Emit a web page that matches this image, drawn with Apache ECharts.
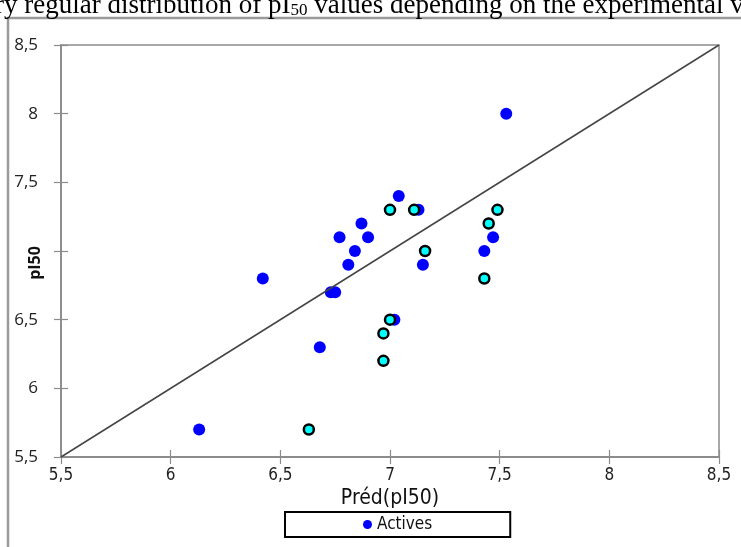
<!DOCTYPE html>
<html>
<head>
<meta charset="utf-8">
<script src="https://cdn.jsdelivr.net/npm/echarts@6/dist/echarts.min.js"></script>
<style>
  html, body { margin: 0; padding: 0; background: #fff; }
  #chart { width: 741px; height: 547px; }
</style>
</head>
<body>
<div id="chart"></div>
<script>
// values
const actives = [
  [7.53, 8.0], [7.04, 7.4], [7.13, 7.3], [6.87, 7.2], [6.77, 7.1],
  [6.90, 7.1], [6.84, 7.0], [6.81, 6.9], [7.15, 6.9], [7.47, 7.1],
  [7.43, 7.0], [6.73, 6.7], [6.75, 6.7], [7.02, 6.5], [6.68, 6.3],
  [6.42, 6.8], [6.13, 5.7],
]
const testSet = [
  [7.00, 7.3], [7.11, 7.3], [7.16, 7.0], [7.49, 7.3], [7.45, 7.2],
  [7.43, 6.8], [7.00, 6.5], [6.97, 6.4], [6.97, 6.2], [6.63, 5.7],
]
const diagonal = [[5.5, 5.5], [8.5, 8.5]]
const axisMin = 5.5
const axisMax = 8.5
const step = 0.5
// the y title sits over this tick label in the original
const hiddenYLabel = 7

const comma = (v) => String(v).replace('.', ',')
const labelFont = "'DejaVu Sans Condensed', 'Open Sans', sans-serif"

const chart = echarts.init(document.getElementById('chart'))

const baseAxis = {
  min: axisMin,
  max: axisMax,
  interval: step,
  splitLine: { show: false },
  axisLine: { lineStyle: { color: '#8c8c8c', width: 1.5 } },
  axisTick: { length: 7, lineStyle: { color: '#8c8c8c', width: 1.2 } },
}

chart.setOption({
  animation: false,
  graphic: [
    {
      type: 'rect',
      shape: { x: 8, y: 18, width: 760, height: 560 },
      style: { fill: 'none', stroke: '#9a9a9a', lineWidth: 2.5 },
      z: 0,
    },
    {
      type: 'text',
      left: -5,
      top: -8,
      style: {
        text: '{n|ry regular distribution of pI}{s|50}{n| values depending on the experimental values}',
        rich: {
          n: { fontFamily: 'Liberation Serif', fontSize: 27, color: '#000' },
          s: { fontFamily: 'Liberation Serif', fontSize: 17, color: '#000', padding: [10, 0, 0, 0] },
        },
      },
    },
  ],
  grid: {
    left: 61,
    right: 22,
    top: 45,
    bottom: 90,
    outerBoundsMode: 'none',
    containLabel: false,
    show: true,
    borderColor: '#8c8c8c',
    borderWidth: 1.5,
  },
  legend: {
    left: 285,
    top: 512,
    data: [{ name: 'Actives' }],
    icon: 'circle',
    itemWidth: 9,
    itemHeight: 9,
    itemGap: 5,
    padding: [4, 78, 4, 78],
    borderColor: '#000',
    borderWidth: 2,
    textStyle: { fontFamily: labelFont, fontSize: 17, color: '#111' },
  },
  xAxis: [
    Object.assign({}, baseAxis, {
      type: 'value',
      name: 'Préd(pI50)',
      nameLocation: 'middle',
      nameGap: 31,
      nameMoveOverlap: false,
      nameTextStyle: { fontFamily: labelFont, fontSize: 21, color: '#111' },
      axisLabel: {
        formatter: comma,
        margin: 10,
        fontFamily: labelFont,
        fontSize: 17,
        color: '#222',
      },
    }),
    Object.assign({}, baseAxis, {
      type: 'value',
      position: 'bottom',
      axisTick: { inside: true, length: 7, lineStyle: { color: '#8c8c8c', width: 1.2 } },
      axisLabel: { show: false },
    }),
  ],
  yAxis: [
    Object.assign({}, baseAxis, {
      type: 'value',
      name: 'pI50',
      nameLocation: 'middle',
      nameGap: 18,
      nameMoveOverlap: false,
      nameTextStyle: {
        fontFamily: 'Open Sans',
        fontSize: 16,
        fontWeight: 'bold',
        color: '#111',
        padding: [0, 24, 0, 0],
      },
      axisLabel: {
        formatter: (v) => (v === hiddenYLabel ? '' : comma(v)),
        margin: 23,
        fontFamily: 'Open Sans',
        fontSize: 17,
        color: '#222',
      },
    }),
    Object.assign({}, baseAxis, {
      type: 'value',
      position: 'left',
      axisTick: { inside: true, length: 7, lineStyle: { color: '#8c8c8c', width: 1.2 } },
      axisLabel: { show: false },
    }),
  ],
  series: [
    {
      name: 'diagonal',
      type: 'line',
      data: diagonal,
      symbol: 'none',
      silent: true,
      lineStyle: { color: '#444', width: 1.5 },
    },
    {
      name: 'Actives',
      type: 'scatter',
      data: actives,
      symbolSize: 12,
      itemStyle: { color: '#0000ff', opacity: 1 },
    },
    {
      name: 'test',
      type: 'scatter',
      data: testSet,
      symbolSize: 10,
      itemStyle: { color: '#00ffff', borderColor: '#000', borderWidth: 2.5, opacity: 1 },
    },
  ],
})
</script>
</body>
</html>
